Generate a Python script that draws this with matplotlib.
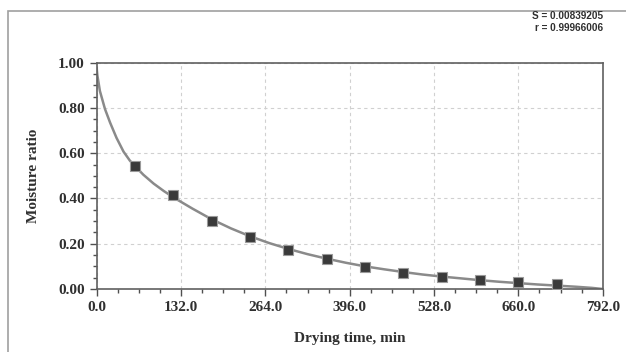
import numpy as np
import matplotlib.pyplot as plt
from matplotlib.patches import Rectangle
from matplotlib.ticker import MultipleLocator, FormatStrFormatter

# measured points
time_min = [60, 120, 180, 240, 300, 360, 420, 480, 540, 600, 660, 720]
moisture = [0.545, 0.415, 0.302, 0.231, 0.174, 0.131, 0.097, 0.071, 0.054, 0.039, 0.029, 0.022]

# fitted curve
fit_t = [0, 1, 5, 13, 21, 31, 42, 52, 60, 73, 89, 105, 120, 150, 180, 210, 240,
         270, 300, 330, 360, 390, 420, 450, 480, 510, 540, 570, 600, 630, 660,
         690, 720, 750, 775, 792]
fit_mr = [0.975, 0.945, 0.875, 0.795, 0.735, 0.668, 0.607, 0.567, 0.543, 0.505,
          0.466, 0.433, 0.405, 0.355, 0.308, 0.268, 0.233, 0.203, 0.177, 0.154,
          0.134, 0.116, 0.100, 0.087, 0.075, 0.064, 0.055, 0.047, 0.039, 0.032,
          0.026, 0.020, 0.015, 0.010, 0.005, 0.0]

stats = ["S = 0.00839205", "r = 0.99966006"]

fig = plt.figure(figsize=(6.26, 3.52), dpi=100)
fig.patches.append(Rectangle((8/626, -0.1), 1.2, 1 - 11/352 + 0.1, transform=fig.transFigure,
                             fill=False, edgecolor='#a0a0a0', linewidth=1.2))

ax = fig.add_axes([96.7/626, 63/352, 506/626, 226.3/352])
ax.plot(fit_t, fit_mr, color='#8a8a8a', linewidth=1.8, zorder=2)
ax.plot(time_min, moisture, linestyle='none', marker='s', markersize=7.8,
        markerfacecolor='#3a3a3a', markeredgecolor='#9a9a9a', markeredgewidth=0.8, zorder=3)

ax.set_xlim(0, 792)
ax.set_ylim(0, 1.0)
ax.xaxis.set_major_locator(MultipleLocator(132))
ax.xaxis.set_minor_locator(MultipleLocator(33))
ax.yaxis.set_major_locator(MultipleLocator(0.2))
ax.yaxis.set_minor_locator(MultipleLocator(0.05))
ax.xaxis.set_major_formatter(FormatStrFormatter('%.1f'))
ax.yaxis.set_major_formatter(FormatStrFormatter('%.2f'))

ax.grid(True, which='major', color='#d0d0d0', linestyle=(0, (3, 3)), linewidth=0.8)
for s in ax.spines.values():
    s.set_color('#606060')
    s.set_linewidth(1.2)

ax.tick_params(which='major', direction='out', length=5, width=1, color='#505050', labelsize=11)
ax.tick_params(which='minor', direction='out', length=3, width=1, color='#505050')
for lab in ax.get_xticklabels() + ax.get_yticklabels():
    lab.set_family('Liberation Serif')
    lab.set_fontweight('bold')
    lab.set_color('#303030')

ax.set_xlabel('Drying time, min', family='Liberation Serif', fontweight='bold',
              fontsize=11, color='#303030', labelpad=13)
ax.set_ylabel('Moisture ratio', family='Liberation Serif', fontweight='bold',
              fontsize=11, color='#303030', labelpad=13)

fig.text(603/626, 1 - 16/352, stats[0], ha='right', va='center', family='Liberation Sans',
         fontweight='bold', fontsize=7.2, color='#303030')
fig.text(603/626, 1 - 28/352, stats[1], ha='right', va='center', family='Liberation Sans',
         fontweight='bold', fontsize=7.2, color='#303030')

fig.savefig('out.png', dpi=100)
